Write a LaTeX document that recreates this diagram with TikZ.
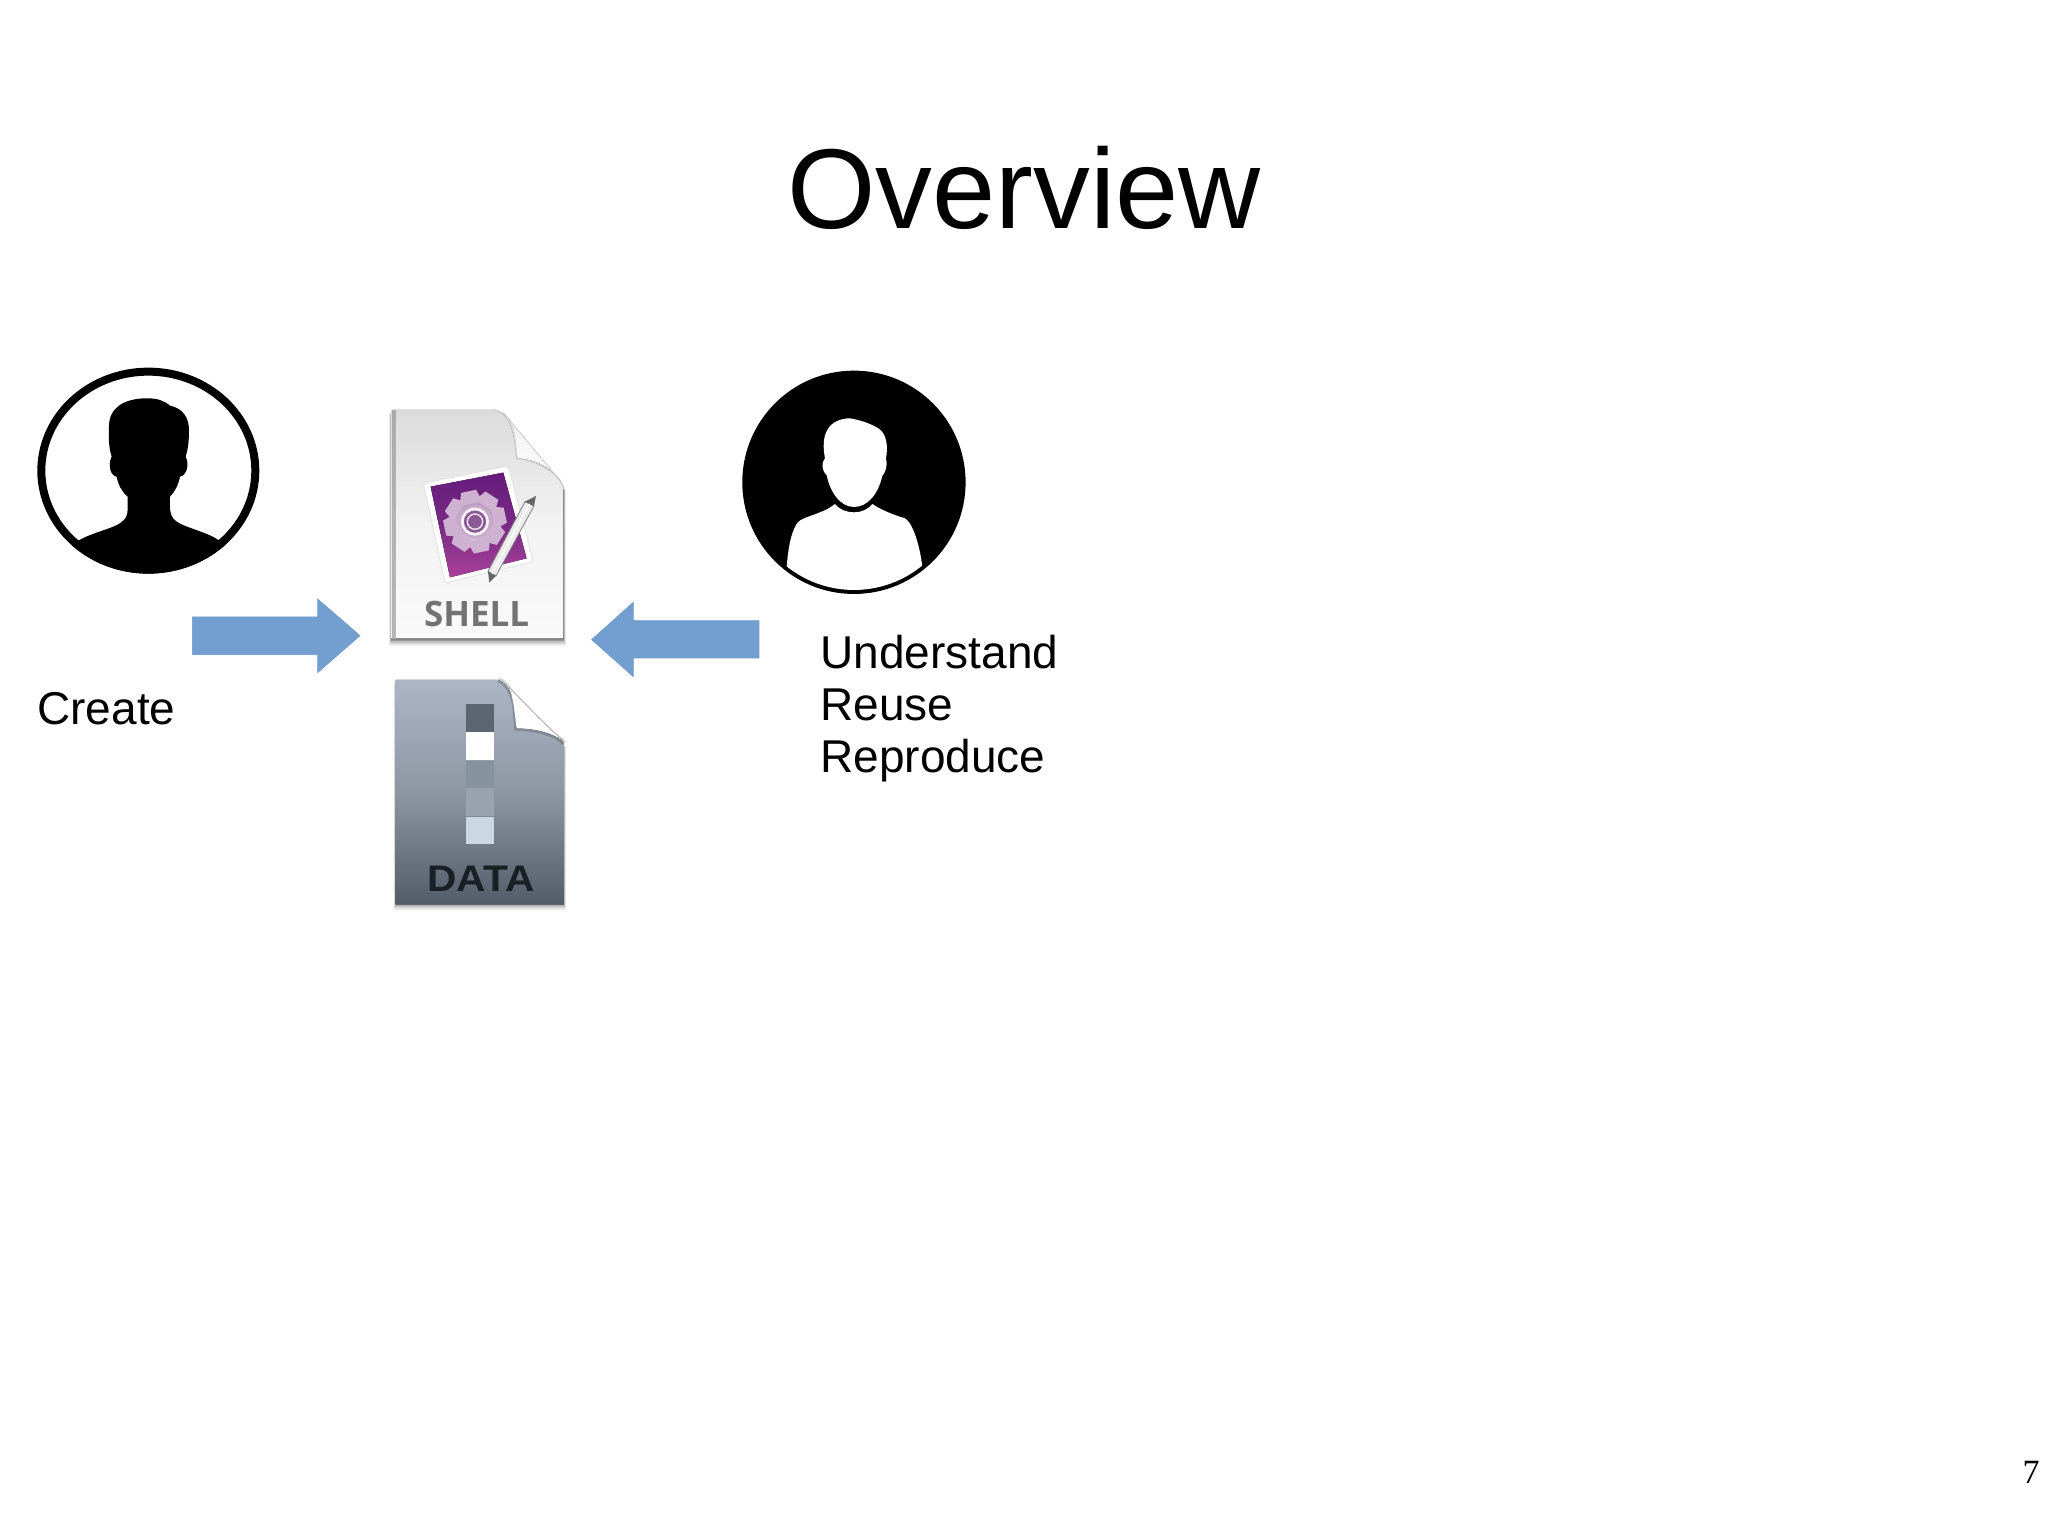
\documentclass[tikz,border=0pt]{standalone}
\usepackage{graphicx}
\usepackage{fontspec}
\setmainfont{Liberation Sans}
\newfontfamily\iconfont{Open Sans}
\newfontfamily\numfont{Liberation Serif}
\definecolor{arrowblue}{HTML}{729FCF}
\definecolor{arrowedge}{HTML}{6E9BCB}
\definecolor{dataTop}{HTML}{ABB5C4}
\definecolor{dataMid}{HTML}{8D97A4}
\definecolor{dataBot}{HTML}{525D69}
\definecolor{dataA}{HTML}{5B6670}
\definecolor{dataB}{HTML}{87929F}
\definecolor{dataC}{HTML}{98A3AE}
\definecolor{dataD}{HTML}{CBD8E3}
\definecolor{dataText}{HTML}{1A1F26}
\definecolor{cardTop}{HTML}{651C7C}
\definecolor{cardMid}{HTML}{7A2A85}
\definecolor{cardBot}{HTML}{A8409A}
\definecolor{gearTop}{HTML}{B795BC}
\definecolor{gearBot}{HTML}{D9BEDA}
\definecolor{gearHole}{HTML}{8A5A94}
\begin{document}
\begin{tikzpicture}[x=0.5pt,y=-0.5pt,
  title/.style={inner sep=0pt,anchor=base,font=\fontsize{56.8}{60}\selectfont,text=black},
  label/.style={inner sep=0pt,anchor=base west,font=\fontsize{23}{26}\selectfont,text=black},
  bluearrow/.style={fill=arrowblue,draw=arrowedge,line width=0.3pt},
  filelabel/.style={inner sep=0pt,anchor=base,font=\iconfont\bfseries\fontsize{17.5}{18}\selectfont}]
\useasboundingbox (0,0) rectangle (2048,1535);
\fill[white] (0,0) rectangle (2048,1535);

% texts
\node[title] (ttl) at (1024,229) {Overview};
\node[label] (create) at (37,724) {Create};
\node[label] (understand) at (820,668) {Understand};
\node[label] (reuse) at (820,720) {Reuse};
\node[label] (reproduce) at (820,772) {Reproduce};
\node[inner sep=0pt,anchor=base] (pg) at (2031,1483) {\numfont\fontsize{17}{17}\selectfont 7};

% left person (units: zoom px)
\begin{scope}[x=1pt/6,y=-1pt/6,shift={(0,1020)}]
  \draw[black,line width=4pt] (445,392) ellipse [x radius=321,y radius=297];
  \begin{scope}
    \clip (445,392) ellipse [x radius=333,y radius=309];
    \fill[black] (200,625) -- (235,602)
      .. controls (280,575) and (350,565) .. (372,540)
      .. controls (383,528) and (383,515) .. (383,500) -- (383,470)
      .. controls (365,455) and (355,435) .. (350,410)
      .. controls (332,408) and (322,375) .. (335,350)
      .. controls (325,320) and (325,280) .. (328,245)
      .. controls (335,195) and (385,175) .. (440,175)
      .. controls (470,175) and (490,180) .. (510,197)
      .. controls (550,205) and (567,235) .. (567,270)
      .. controls (567,300) and (565,325) .. (557,350)
      .. controls (570,375) and (558,408) .. (540,410)
      .. controls (535,435) and (525,455) .. (510,470) -- (510,500)
      .. controls (510,520) and (515,535) .. (530,545)
      .. controls (560,565) and (620,575) .. (658,602)
      -- (700,625) -- (800,720) -- (100,720) -- cycle;
  \end{scope}
\end{scope}

% right person
\begin{scope}[x=1pt/6,y=-1pt/6,shift={(1710,1050)}]
  \fill[black] (852,397) circle [radius=335];
  \begin{scope}
    \clip (852,397) circle [radius=323];
    \fill[white] (600,800) -- (650,650)
      .. controls (655,600) and (660,555) .. (680,522)
      .. controls (690,505) and (720,500) .. (750,487)
      .. controls (770,480) and (785,470) .. (795,462)
      .. controls (810,480) and (830,487) .. (852,487)
      .. controls (875,487) and (895,478) .. (907,462)
      .. controls (930,478) and (970,495) .. (1005,505)
      .. controls (1030,520) and (1050,590) .. (1057,650)
      -- (1100,800) -- cycle;
  \end{scope}
  \fill[white] (852,471)
    .. controls (810,471) and (780,425) .. (770,375)
    .. controls (757,365) and (752,340) .. (765,325)
    .. controls (760,295) and (758,265) .. (772,240)
    .. controls (785,215) and (815,205) .. (840,205)
    .. controls (870,210) and (900,220) .. (925,235)
    .. controls (950,250) and (955,290) .. (948,325)
    .. controls (955,345) and (945,370) .. (937,378)
    .. controls (925,430) and (895,471) .. (852,471) -- cycle;
\end{scope}

% block arrows
\begin{scope}[x=1pt/6,y=-1pt/6,shift={(0,1020)}]
  \filldraw[bluearrow] (577,831) -- (953,831) -- (953,777) -- (1080,887) -- (953,998) -- (953,944) -- (577,944) -- cycle;
\end{scope}
\begin{scope}[x=1pt/6,y=-1pt/6,shift={(1710,1050)}]
  \filldraw[bluearrow] (567,812) -- (190,812) -- (190,757) -- (65,869) -- (190,980) -- (190,924) -- (567,924) -- cycle;
\end{scope}

% SHELL document
\begin{scope}[x=1pt/6,y=-1pt/6,shift={(1080,1170)}]
  \foreach \d/\o in {24/0.04,20/0.06,16/0.08,12/0.12,8/0.16,4/0.22}
    \fill[black,opacity=\o] (95-\d/3,70) -- (95-\d/3,745+\d) -- (610+\d/3,745+\d) -- (610+\d/3,300) -- (95,70) -- cycle;
  \fill[top color=black!14,bottom color=black!2,middle color=black!5]
    (95,60) -- (405,60)
    .. controls (440,70) and (462,105) .. (465,150)
    -- (470,205) .. controls (520,210) and (590,240) .. (610,290)
    -- (610,745) -- (95,745) -- cycle;
  \fill[left color=black!12,right color=black!6,opacity=.4] (95,60) rectangle (108,745);
  \fill[top color=black!6,bottom color=white] (430,68) .. controls (458,105) and (465,150) .. (470,205)
    .. controls (520,208) and (570,225) .. (605,278) -- cycle;
  \draw[black!18,line width=.4pt] (430,68) -- (605,278);
  \draw[black!20,line width=.8pt,opacity=.7] (405,60) .. controls (440,70) and (462,105) .. (465,150) -- (470,205) .. controls (520,210) and (590,240) .. (610,290);
  % icon card
  \fill[white,draw=black!12,line width=.4pt,rounded corners=1.5pt] (190,280) -- (445,228) -- (520,515) -- (255,580) -- cycle;
  \fill[top color=cardTop,bottom color=cardBot,middle color=cardMid]
    (212,290) -- (430,248) -- (500,505) -- (270,562) -- cycle;
  % gear
  \fill[top color=gearTop,bottom color=gearBot] (345,395) circle [radius=76];
  \foreach \a in {0,45,...,315}
    \fill[gearBot!70!gearTop,rotate around={\a+12:(345,395)}] (322,302) -- (368,302) -- (380,340) -- (310,340) -- cycle;
  \fill[gearTop!80!white] (345,395) circle [radius=50];
  \fill[gearHole] (345,395) circle [radius=38];
  \draw[white!75!gearBot,line width=1.4pt] (345,395) circle [radius=38];
  \draw[white!60!gearBot,line width=.7pt] (345,395) circle [radius=23];
  % pen
  \fill[black!8,draw=black!50,line width=.4pt] (495,335) -- (522,348) -- (408,558) -- (384,544) -- cycle;
  \fill[black!60] (495,335) -- (528,318) -- (522,348) -- cycle;
  \fill[black!60] (384,544) -- (408,558) -- (388,578) -- cycle;
  \draw[white,line width=.8pt] (508,342) -- (396,551);
  \node[filelabel,text=black!55] (shell) at (350,710) {SHELL};
\end{scope}

% DATA document
\begin{scope}[x=1pt/6,y=-1pt/6,shift={(1110,1980)}]
  \foreach \d/\o in {20/0.03,16/0.05,12/0.07,8/0.1,4/0.14}
    \fill[black,opacity=\o] (77-\d/3,70) -- (77-\d/3,733+\d) -- (582+\d/3,733+\d) -- (582+\d/3,260) -- (77,70) -- cycle;
  \fill[top color=dataTop,bottom color=dataBot,middle color=dataMid]
    (77,60) -- (385,60)
    .. controls (415,70) and (432,110) .. (435,150)
    -- (440,205) .. controls (500,205) and (565,225) .. (582,250)
    -- (582,733) -- (77,733) -- cycle;
  \draw[black,opacity=.18,line width=2.4pt] (385,60) .. controls (415,70) and (432,110) .. (435,150) -- (440,205) .. controls (500,205) and (565,225) .. (582,250);
  \fill[white] (418,82) .. controls (432,120) and (435,170) .. (440,205)
    .. controls (490,205) and (540,215) .. (578,240) -- cycle;
  \draw[black!30,line width=.5pt] (418,82) .. controls (460,125) and (520,190) .. (578,240);
  \fill[dataA] (287,132) rectangle (373,215);
  \fill[white] (287,217) rectangle (373,300);
  \fill[dataB] (287,303) rectangle (373,383);
  \fill[dataC] (287,385) rectangle (373,468);
  \fill[dataD] (287,470) rectangle (373,553);
  \node[inner sep=0pt,anchor=base,font=\bfseries\fontsize{18.5}{19}\selectfont,text=dataText] (data) at (333,695) {\scalebox{1.1}[1]{DATA}};
\end{scope}
\end{tikzpicture}
\end{document}
